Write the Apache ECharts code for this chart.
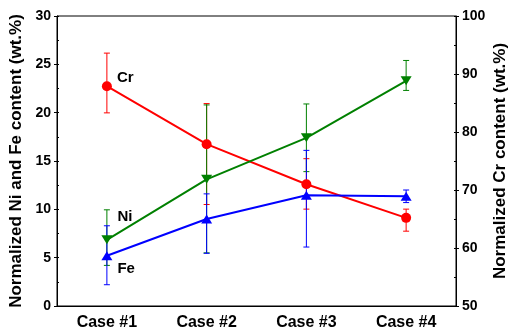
<!DOCTYPE html>
<html>
<head>
<meta charset="utf-8">
<script src="https://cdn.jsdelivr.net/npm/echarts@6/dist/echarts.min.js"></script>
<style>html,body{margin:0;padding:0;background:#fff}#c{width:508px;height:332px}</style>
</head>
<body>
<div id="c"></div>
<script>
const categories = ['Case #1', 'Case #2', 'Case #3', 'Case #4'];
// Cr (right axis)
const crValues = [87.9, 77.9, 71.0, 65.2];
const crLow    = [83.3, 67.5, 66.7, 62.9];
const crHigh   = [93.6, 84.9, 75.4, 66.7];
// Ni (left axis)
const niValues = [6.85, 13.1, 17.4, 23.3];
const niLow    = [4.2, 5.5, 13.9, 22.3];
const niHigh   = [9.95, 20.8, 20.9, 25.4];
// Fe (left axis)
const feValues = [5.2, 9.0, 11.45, 11.35];
const feLow    = [2.2, 5.45, 6.1, 10.7];
const feHigh   = [8.3, 11.6, 16.1, 12.0];
const seriesNames = ['Cr', 'Ni', 'Fe'];

const FONT = '"Liberation Sans", Arial, sans-serif';
const RED = '#ff0000', GREEN = '#008000', BLUE = '#0000ff';

function errData(low, high) {
  return categories.map((c, i) => [i, low[i], high[i]]);
}
function errSeries(low, high, color, yAxisIndex, z) {
  return {
    type: 'custom',
    yAxisIndex: yAxisIndex,
    z: z,
    silent: true,
    data: errData(low, high),
    encode: { x: 0, y: [1, 2] },
    renderItem: function (params, api) {
      const lo = api.coord([api.value(0), api.value(1)]);
      const hi = api.coord([api.value(0), api.value(2)]);
      const w = 3;
      const st = { stroke: color, lineWidth: 1 };
      return {
        type: 'group',
        children: [
          { type: 'line', shape: { x1: lo[0], y1: lo[1], x2: hi[0], y2: hi[1] }, style: st },
          { type: 'line', shape: { x1: lo[0] - w, y1: lo[1], x2: lo[0] + w, y2: lo[1] }, style: st },
          { type: 'line', shape: { x1: hi[0] - w, y1: hi[1], x2: hi[0] + w, y2: hi[1] }, style: st }
        ]
      };
    }
  };
}
function withLabel(values, name, offset) {
  return values.map((v, i) => i === 0 ? {
    value: v,
    label: { show: true, formatter: name, position: 'right', offset: offset,
      fontFamily: FONT, fontWeight: 'bold', fontSize: 15, color: '#000' }
  } : v);
}

const chart = echarts.init(document.getElementById('c'), null, { renderer: 'canvas' });
const axisLabelStyle = { fontFamily: FONT, fontWeight: 'bold', fontSize: 14, color: '#000' };
chart.setOption({
  animation: false,
  grid: { left: 57, right: 52, top: 16, bottom: 26, show: true, borderColor: '#000', borderWidth: 1,
          containLabel: false, outerBoundsMode: 'none' },
  xAxis: {
    type: 'category',
    data: categories,
    boundaryGap: true,
    axisLine: { lineStyle: { color: '#000', width: 1 } },
    axisTick: { inside: true, alignWithLabel: true, length: 5, lineStyle: { color: '#000', width: 1 } },
    axisLabel: { fontFamily: FONT, fontWeight: 'bold', fontSize: 16, color: '#000', margin: 9 },
    splitLine: { show: false }
  },
  yAxis: [
    {
      type: 'value', min: 0, max: 30, interval: 5, position: 'left',
      name: 'Normalized Ni and Fe content (wt.%)', nameLocation: 'middle', nameRotate: 90, nameGap: 32,
      nameMoveOverlap: false,
      nameTextStyle: { fontFamily: FONT, fontWeight: 'bold', fontSize: 17, color: '#000' },
      axisLine: { show: true, lineStyle: { color: '#000', width: 1 } },
      axisTick: { show: true, length: 3, lineStyle: { color: '#000' } },
      axisLabel: Object.assign({ margin: 6 }, axisLabelStyle),
      splitLine: { show: false }
    },
    {
      type: 'value', min: 50, max: 100, interval: 10, position: 'right',
      name: 'Normalized Cr content (wt.%)', nameLocation: 'middle', nameRotate: 90, nameGap: 36,
      nameMoveOverlap: false,
      nameTextStyle: { fontFamily: FONT, fontWeight: 'bold', fontSize: 17, color: '#000' },
      axisLine: { show: true, lineStyle: { color: '#000', width: 1 } },
      axisTick: { show: true, length: 3, lineStyle: { color: '#000' } },
      axisLabel: Object.assign({ margin: 6 }, axisLabelStyle),
      splitLine: { show: false }
    },
    {
      type: 'value', min: 0, max: 30, interval: 2.5, position: 'left',
      axisLine: { show: false }, axisLabel: { show: false }, splitLine: { show: false },
      axisTick: { show: true, inside: true, length: 2, lineStyle: { color: '#000' } }
    },
    {
      type: 'value', min: 50, max: 100, interval: 5, position: 'right',
      axisLine: { show: false }, axisLabel: { show: false }, splitLine: { show: false },
      axisTick: { show: true, inside: true, length: 2, lineStyle: { color: '#000' } }
    }
  ],
  series: [
    errSeries(crLow, crHigh, RED, 1, 2),
    errSeries(niLow, niHigh, GREEN, 0, 3),
    errSeries(feLow, feHigh, BLUE, 0, 4),
    {
      name: seriesNames[0], type: 'line', yAxisIndex: 1, z: 5,
      data: withLabel(crValues, seriesNames[0], [0, -8]),
      symbol: 'circle', symbolSize: 10,
      lineStyle: { color: RED, width: 2 }, itemStyle: { color: RED }
    },
    {
      name: seriesNames[1], type: 'line', yAxisIndex: 0, z: 6,
      data: withLabel(niValues, seriesNames[1], [0, -23]),
      symbol: 'triangle', symbolRotate: 180, symbolSize: [11, 9],
      lineStyle: { color: GREEN, width: 2 }, itemStyle: { color: GREEN }
    },
    {
      name: seriesNames[2], type: 'line', yAxisIndex: 0, z: 7,
      data: withLabel(feValues, seriesNames[2], [0, 13]),
      symbol: 'triangle', symbolSize: [11, 9],
      lineStyle: { color: BLUE, width: 2 }, itemStyle: { color: BLUE }
    }
  ]
});
</script>
</body>
</html>
